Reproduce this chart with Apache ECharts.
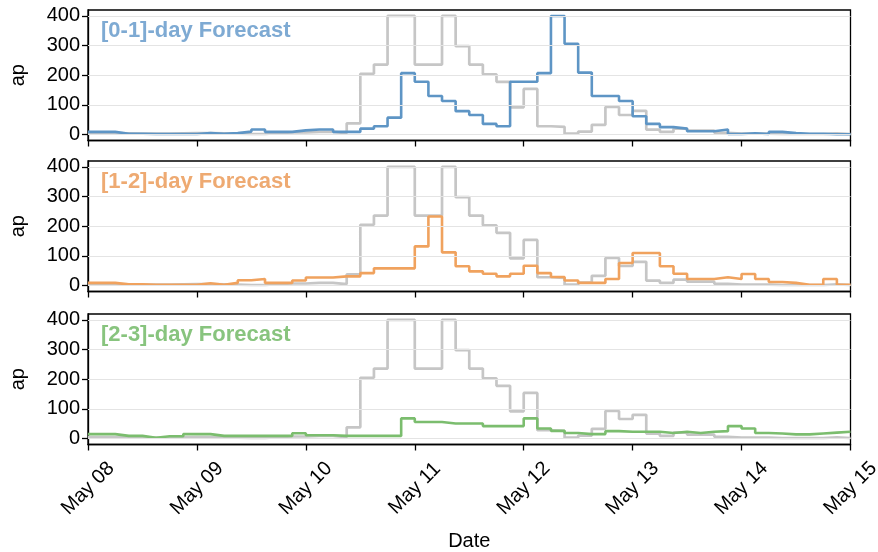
<!DOCTYPE html>
<html>
<head>
<meta charset="utf-8">
<style>
  html, body { margin: 0; padding: 0; background: #fff; }
  #chart { width: 878px; height: 552px; }
</style>
<script src="https://cdn.jsdelivr.net/npm/echarts@6/dist/echarts.min.js"></script>
</head>
<body>
<div id="chart"></div>
<script>
// 3-hourly ap index, 8 May 00 UT to 15 May 00 UT (56 intervals)
const hoursPerStep = 3;
const dayLabels = ['May 08', 'May 09', 'May 10', 'May 11', 'May 12', 'May 13', 'May 14', 'May 15'];
const yTicks = [0, 100, 200, 300, 400];

const observed = [
  5, 5, 4, 3, 3, 3, 4, 5, 5, 4, 3, 2, 2, 5, 7, 7, 9, 9, 5, 38,
  205, 236, 400, 400, 236, 236, 400, 298, 236, 203, 178, 92, 154, 28, 26, 3, 10, 33, 93, 66,
  80, 17, 9, 20, 13, 13, 6, 3, 3, 3, 2, 2, 2, 2, 4, 2
];
const forecast01 = [
  9, 9, 3, 3, 2, 2, 2, 2, 5, 3, 5, 10, 17, 9, 9, 14, 17, 17, 9, 9,
  20, 28, 57, 207, 178, 130, 113, 79, 66, 36, 28, 178, 178, 207, 400, 306, 209, 130, 130, 113,
  62, 36, 25, 20, 11, 11, 17, 2, 4, 2, 9, 5, 3, 3, 1, 1
];
const forecast12 = [
  9, 9, 4, 4, 3, 3, 3, 3, 8, 3, 9, 18, 22, 9, 9, 17, 27, 27, 31, 31,
  42, 58, 58, 58, 132, 233, 112, 65, 48, 40, 31, 40, 67, 42, 29, 17, 9, 9, 22, 76,
  110, 110, 65, 40, 22, 22, 28, 22, 39, 22, 12, 9, 3, 3, 22, 3
];
const forecast23 = [
  15, 15, 9, 9, 3, 8, 8, 15, 15, 9, 9, 9, 9, 9, 9, 18, 11, 11, 9, 9,
  9, 9, 9, 68, 56, 56, 51, 51, 51, 42, 42, 42, 68, 34, 26, 19, 15, 15, 25, 23,
  23, 23, 19, 23, 19, 23, 25, 42, 34, 19, 17, 14, 14, 17, 20, 23
];

const panels = [
  { name: '[0-1]-day Forecast', values: forecast01, line: '#5e95c5', text: '#7eaad3' },
  { name: '[1-2]-day Forecast', values: forecast12, line: '#f0a25e', text: '#eeaa72' },
  { name: '[2-3]-day Forecast', values: forecast23, line: '#7bbd6e', text: '#88c47e' }
];

// value i holds from hour 3i to 3(i+1); repeat the last value at the right edge
function toSteps(values) {
  const pts = values.map((v, i) => [i * hoursPerStep, v]);
  pts.push([values.length * hoursPerStep, values[values.length - 1]]);
  return pts;
}

const gridTops = [10, 161, 314];
const gridHeight = 130.5;
const fontFamily = '"Liberation Sans", Arial, Helvetica, sans-serif';

const grid = [], xAxis = [], yAxis = [], series = [], title = [];

panels.forEach((p, k) => {
  const last = k === panels.length - 1;
  grid.push({
    left: 88, right: 27.5, top: gridTops[k], height: gridHeight,
    containLabel: false, outerBoundsMode: 'none',
    show: true, borderColor: '#000', borderWidth: 1.3, backgroundColor: 'transparent'
  });
  xAxis.push({
    type: 'value', gridIndex: k, min: 0, max: 168, interval: 24,
    axisLine: { show: true, onZero: false, lineStyle: { color: '#000', width: 1.3 } },
    axisTick: { show: true, inside: false, length: 6, lineStyle: { color: '#000', width: 1.3 } },
    splitLine: { show: false },
    axisLabel: {
      show: last, rotate: 45, margin: 44, fontSize: 20, color: '#000', fontFamily,
      align: 'center', verticalAlign: 'middle', hideOverlap: false,
      formatter: v => dayLabels[Math.round(v / 24)]
    },
    name: last ? 'Date' : '', nameLocation: 'middle', nameGap: 87,
    nameTextStyle: { fontSize: 20, color: '#000', fontFamily }
  });
  yAxis.push({
    type: 'value', gridIndex: k, min: -20, max: 420,
    axisLine: { show: true, lineStyle: { color: '#000', width: 1.3 } },
    axisTick: { show: true, length: 6, customValues: yTicks, lineStyle: { color: '#000', width: 1.3 } },
    axisLabel: { customValues: yTicks, margin: 8, fontSize: 20, color: '#000', fontFamily },
    splitLine: { show: false },
    name: 'ap', nameLocation: 'middle', nameGap: 60, nameRotate: 90,
    nameTextStyle: { fontSize: 20, color: '#000', fontFamily }
  });
  // horizontal reference lines at the labelled ticks
  series.push({
    type: 'line', xAxisIndex: k, yAxisIndex: k, data: [], z: 1, silent: true,
    markLine: {
      silent: true, symbol: 'none', animation: false,
      label: { show: false },
      lineStyle: { color: '#e4e4e4', width: 1.2, type: 'solid' },
      data: yTicks.map(t => ({ yAxis: t }))
    }
  });
  series.push({
    type: 'line', xAxisIndex: k, yAxisIndex: k, step: 'end', z: 2,
    data: toSteps(observed), showSymbol: false, silent: true,
    lineStyle: { color: '#c6c6c6', width: 2.7 }
  });
  series.push({
    type: 'line', xAxisIndex: k, yAxisIndex: k, step: 'end', z: 3,
    data: toSteps(p.values), showSymbol: false, silent: true,
    lineStyle: { color: p.line, width: 2.6 }
  });
  title.push({
    text: p.name, left: 101, top: gridTops[k] + 10,
    textStyle: { fontSize: 22, fontWeight: 'bold', color: p.text, fontFamily },
    padding: 0
  });
});

const chart = echarts.init(document.getElementById('chart'), null, { renderer: 'canvas' });
chart.setOption({
  animation: false,
  backgroundColor: '#fff',
  title, grid, xAxis, yAxis, series
});
</script>
</body>
</html>
